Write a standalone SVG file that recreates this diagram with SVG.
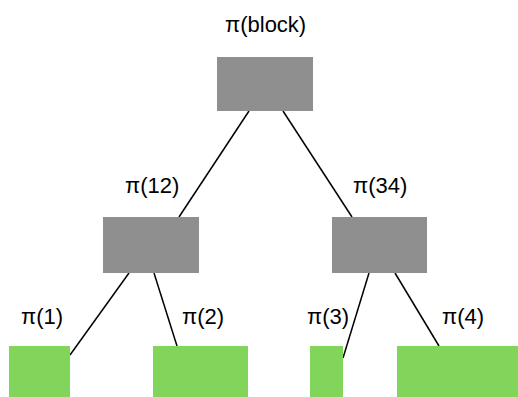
<svg xmlns="http://www.w3.org/2000/svg" width="518" height="397" viewBox="0 0 518 397">
<style>
.inner{fill:#8f8f8f}
.leaf{fill:#81d55a}
text{font-family:"Liberation Sans",Arial,sans-serif;font-size:22px;fill:#000}
.edge{stroke:#000;stroke-width:1.5;fill:none}
</style>
<rect width="518" height="397" fill="#fff"/>
<g id="connectors">
<line class="edge" x1="249" y1="111" x2="179" y2="217"/>
<line class="edge" x1="283" y1="111" x2="352" y2="217"/>
<line class="edge" x1="129" y1="273" x2="70" y2="355"/>
<line class="edge" x1="154" y1="273" x2="177" y2="346"/>
<line class="edge" x1="369" y1="273" x2="343" y2="358"/>
<line class="edge" x1="395" y1="273" x2="439" y2="346"/>
</g>
<g id="root">
<rect class="inner" x="217" y="57" width="96" height="54"/>
<text x="225" y="32">π(block)</text>
</g>
<g id="n12">
<rect class="inner" x="103" y="217" width="96" height="56"/>
<text x="125" y="193">π(12)</text>
</g>
<g id="n34">
<rect class="inner" x="332" y="217" width="95" height="56"/>
<text x="353" y="193">π(34)</text>
</g>
<g id="n1">
<rect class="leaf" x="9" y="346" width="61" height="51"/>
<text x="21" y="324">π(1)</text>
</g>
<g id="n2">
<rect class="leaf" x="153" y="346" width="95" height="51"/>
<text x="182" y="324">π(2)</text>
</g>
<g id="n3">
<rect class="leaf" x="310" y="346" width="33" height="51"/>
<text x="307" y="324">π(3)</text>
</g>
<g id="n4">
<rect class="leaf" x="397" y="346" width="121" height="51"/>
<text x="442" y="324">π(4)</text>
</g>
</svg>
